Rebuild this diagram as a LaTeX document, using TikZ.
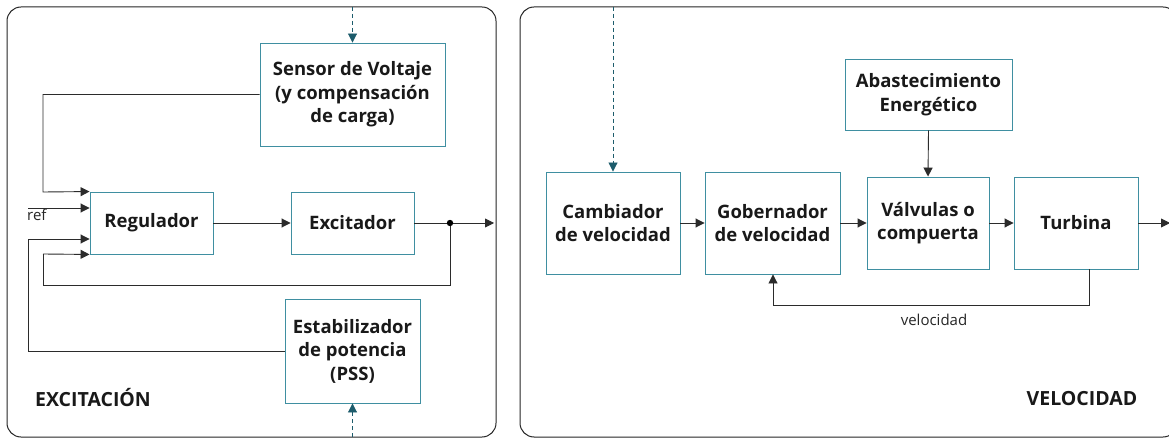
\documentclass[tikz,border=0pt]{standalone}
\usepackage{fontspec}
\setmainfont{Open Sans}
\usetikzlibrary{arrows.meta}
\definecolor{boxline}{HTML}{3F8FA1}
\definecolor{dashline}{HTML}{1D5C6C}
\definecolor{wire}{HTML}{2B2B2B}
\tikzset{
  blk/.style={draw=boxline, line width=0.9pt, fill=white, inner sep=0pt, align=center,
    font=\bfseries\fontsize{18.5}{23.5}\selectfont, text=black!90},
  panel/.style={draw=black!85, line width=1pt, rounded corners=14pt},
  wirearrow/.style={draw=wire, line width=0.9pt, -{Triangle[length=9pt,width=9pt]}},
  wireline/.style={draw=wire, line width=0.9pt},
  dasharrow/.style={draw=dashline, line width=0.9pt, dash pattern=on 4pt off 3pt,
    -{Triangle[length=9pt,width=9pt]}},
  smalltext/.style={font=\fontsize{15}{17}\selectfont, text=black!85, inner sep=0pt},
  paneltitle/.style={font=\bfseries\fontsize{19.5}{22}\selectfont, text=black!90, inner sep=0pt}
}
\begin{document}
\begin{tikzpicture}[x=1pt,y=-1pt]
\useasboundingbox (0,0) rectangle (1169,438);
\fill[white] (0,0) rectangle (1169,438);

% panel frames
\draw[panel] (7,7) rectangle (496,437);
\draw[panel] (520,7) rectangle (1177,437);

% excitation blocks
\node[blk, minimum width=185pt, minimum height=103pt] (sensor) at (352.5,94.5)
  {Sensor de Voltaje\\(y compensación\\de carga)};
\node[blk, minimum width=123pt, minimum height=62pt] (reg) at (151.5,223) {Regulador};
\node[blk, minimum width=123pt, minimum height=62pt] (exc) at (352.5,223) {Excitador};
\node[blk, minimum width=135pt, minimum height=104pt] (pss) at (352.5,351)
  {Estabilizador\\de potencia\\(PSS)};

% speed blocks
\node[blk, minimum width=134pt, minimum height=102pt] (camb) at (613,223)
  {Cambiador\\de velocidad};
\node[blk, minimum width=135pt, minimum height=102pt] (gob) at (772.5,223)
  {Gobernador\\de velocidad};
\node[blk, minimum width=122pt, minimum height=92pt] (valv) at (928,223)
  {Válvulas o\\compuerta};
\node[blk, minimum width=124pt, minimum height=92pt] (turb) at (1076,223) {Turbina};
\node[blk, minimum width=167pt, minimum height=71pt] (abast) at (928.5,94.5)
  {Abastecimiento\\Energético};

% free ends
\coordinate (topA) at (352.5,7);
\coordinate (botA) at (352.5,437);
\coordinate (topB) at (613,7);
\coordinate (refin) at (28,208);
\coordinate (excout) at (494,223);
\coordinate (turbout) at (1170,223);
\coordinate (split) at (450,223);

% excitation connections
\draw[dasharrow] (topA) -- (sensor.north);
\draw[dasharrow] (botA) -- (pss.south);
\draw[wirearrow] (sensor.west) -| (43,192) -- (reg.north west);
\draw[wirearrow] (refin) -- (reg.west |- refin);
\node[smalltext, anchor=north west] (reflabel) at (27,209) {ref};
\draw[wirearrow] (pss.west) -| (28,239) -- (reg.west |- 0,239);
\draw[wirearrow] (reg.east) -- (exc.west);
\draw[wirearrow] (exc.east) -- (excout);
\draw[wireline] (split) -- (450,285) -| (43,254);
\draw[wirearrow] (43,254) -- (reg.south west);
\fill[black] (split) circle (3.2pt);

% speed connections
\draw[dasharrow] (topB) -- (camb.north);
\draw[wirearrow] (camb.east) -- (gob.west);
\draw[wirearrow] (gob.east) -- (valv.west);
\draw[wirearrow] (valv.east) -- (turb.west);
\draw[wirearrow] (turb.east) -- (turbout);
\draw[wirearrow] (abast.south) -- (valv.north);
\draw[wirearrow] (turb.south -| 1089,0) |- (773,305) -- (gob.south -| 773,0);
\node[smalltext] (vellabel) at (934,320) {velocidad};

% panel titles
\node[paneltitle] (exctitle) at (93,398) {EXCITACIÓN};
\node[paneltitle] (veltitle) at (1082,399) {VELOCIDAD};
\end{tikzpicture}
\end{document}
